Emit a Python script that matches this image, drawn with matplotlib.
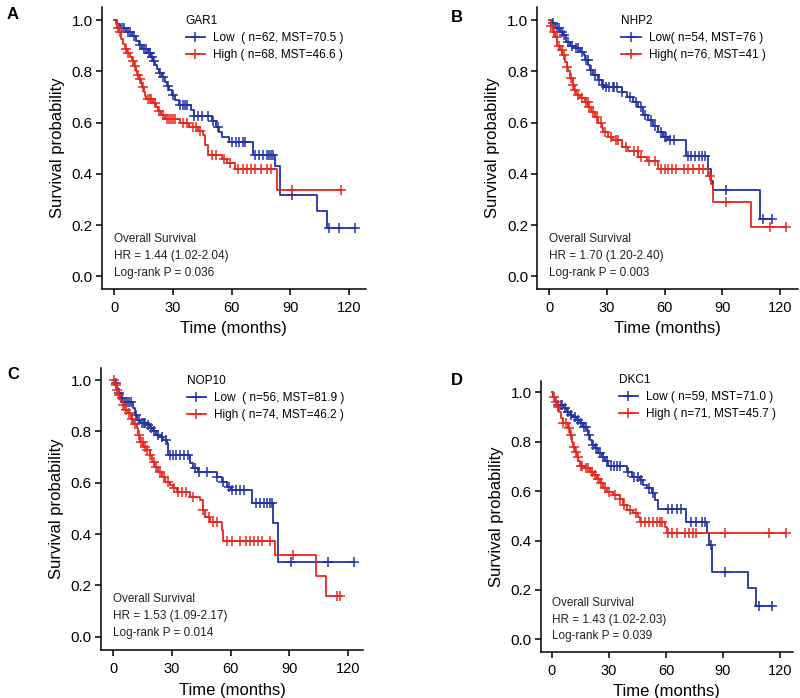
import numpy as np
import matplotlib.pyplot as plt
from matplotlib.lines import Line2D

plt.rcParams['font.family'] = ['Liberation Sans', 'DejaVu Sans']

BLUE = '#2233a6'
RED = '#e8281e'

# ---- panel A : GAR1
a_low_t = [0, 1.5, 3, 6, 9, 11, 12.5, 14, 17, 19, 20, 21, 22, 23, 24.5, 26, 27, 28, 29.5, 31, 33,
           39, 40.5, 50, 52, 53.5, 55, 58.5, 71, 82, 84.5, 103.5, 108.5]
a_low_s = [1.0, 0.984, 0.968, 0.952, 0.936, 0.92, 0.904, 0.888, 0.872, 0.856, 0.84, 0.824, 0.808, 0.792,
           0.776, 0.76, 0.744, 0.728, 0.706, 0.688, 0.67, 0.648, 0.624, 0.604, 0.584, 0.562, 0.543,
           0.523, 0.475, 0.43, 0.318, 0.254, 0.19]
a_low_cens = [4, 5, 7, 8, 10, 13, 15, 16, 17.5, 18, 19.5, 20.5, 23.5, 25, 27.5, 30, 33.5, 35, 36, 37,
              41, 43, 45, 48, 50.5, 53, 60, 62, 64, 66, 67, 72, 74, 76, 78, 79, 80, 81, 91, 110, 115, 123]
a_high_t = [0, 0.8, 1.5, 2.5, 3.5, 4.5, 5.5, 6.5, 8, 9, 10, 11, 11.5, 12.5, 13.5, 14, 15, 15.5, 16, 20,
            21.5, 22.5, 24, 26, 33.5, 38, 43, 45.5, 46.5, 48, 55, 57.5, 61.5, 83]
a_high_s = [1.0, 0.985, 0.97, 0.955, 0.925, 0.905, 0.885, 0.87, 0.855, 0.84, 0.82, 0.8, 0.785, 0.77,
            0.755, 0.74, 0.72, 0.705, 0.69, 0.675, 0.66, 0.645, 0.63, 0.615, 0.598, 0.583, 0.566, 0.55,
            0.512, 0.475, 0.458, 0.443, 0.42, 0.338]
a_high_cens = [2, 3, 6, 7, 9.5, 10.5, 12, 13, 14.5, 17, 18, 19, 21, 23, 25, 27, 28, 29, 30, 31, 35, 37,
               40, 42, 44, 50, 52, 56, 59, 63, 66, 68, 70, 72, 75, 78, 80, 91, 116]

# ---- panel B : NHP2
b_low_t = [0, 1.4, 3, 5.7, 7.4, 9, 11, 13.5, 16, 18, 18.7, 20.4, 21.3, 23, 25.6, 27.3, 28.5, 37.7, 40.3,
           43.8, 46.4, 49, 51.6, 54, 56.7, 59.3, 62, 71, 82.7, 84, 85.3, 109.5]
b_low_s = [1.0, 0.987, 0.97, 0.955, 0.94, 0.915, 0.9, 0.89, 0.876, 0.863, 0.845, 0.825, 0.805, 0.785,
           0.766, 0.746, 0.738, 0.72, 0.70, 0.68, 0.66, 0.63, 0.61, 0.586, 0.564, 0.545, 0.532, 0.47,
           0.42, 0.37, 0.337, 0.224]
b_low_cens = [2, 4, 5, 6.5, 8, 10, 12, 14, 15, 17, 19, 20, 22, 24, 26, 28, 29.5, 31, 33, 34, 35.5, 38,
              42, 45, 48, 50, 53, 55, 58, 60, 61, 63, 65, 72, 74, 76, 78, 79.5, 81, 92, 111, 116]
b_high_t = [0, 0.8, 2, 3, 4.3, 5.7, 7, 8.3, 9.2, 10, 11, 12.3, 13, 14, 16, 18.7, 20.4, 22, 24, 25.6,
            27.3, 28.2, 30.8, 33.4, 37.7, 41, 46.4, 50.7, 56.7, 82.7, 84, 85, 104.9]
b_high_s = [1.0, 0.975, 0.955, 0.935, 0.9, 0.883, 0.863, 0.837, 0.818, 0.8, 0.772, 0.746, 0.727, 0.707,
            0.694, 0.68, 0.662, 0.642, 0.623, 0.6, 0.577, 0.564, 0.545, 0.532, 0.506, 0.487, 0.467,
            0.448, 0.42, 0.39, 0.36, 0.29, 0.194]
b_high_cens = [1, 2.5, 4, 5, 6.5, 8, 9.5, 11.5, 12.5, 13.5, 15, 17, 19, 20, 21, 23, 25, 27, 29, 32, 35,
               36, 40, 44, 46, 48, 52, 55, 58, 60, 62, 64, 66, 70, 72, 75, 78, 80, 83.5, 92, 115, 123]

# ---- panel C : NOP10
c_low_t = [0, 1, 1.7, 2.6, 3.8, 5, 10, 11, 12, 13.7, 17, 18.8, 20.5, 22, 24, 25.6, 27.3, 28, 39.2, 41,
           43.5, 53, 55.5, 58, 60, 70.8, 82, 84.5]
c_low_s = [1.0, 0.987, 0.967, 0.948, 0.93, 0.915, 0.89, 0.864, 0.844, 0.834, 0.825, 0.812, 0.80, 0.786,
           0.777, 0.766, 0.753, 0.708, 0.675, 0.656, 0.643, 0.623, 0.604, 0.584, 0.571, 0.52, 0.444,
           0.292]
c_low_cens = [1.5, 3, 4.5, 6, 7, 8, 9, 11.5, 13, 14.5, 15.5, 16, 18, 19.5, 21, 23, 25, 27, 29, 30.5,
              32, 34, 36, 38, 42, 44, 48, 53, 56, 59, 61, 63, 65, 67, 73, 75, 77, 78.5, 80, 81, 91,
              110, 123]
c_high_t = [0, 0.8, 1.7, 2.6, 3.4, 4.8, 6, 7.7, 9, 10.2, 12, 12.8, 13.7, 15.4, 17, 18.8, 20, 21.3, 23,
            24.7, 26.5, 29, 30.7, 32.4, 39.2, 44.4, 46, 47, 49.5, 55.5, 56.3, 82.8, 104, 108.7]
c_high_s = [1.0, 0.98, 0.96, 0.94, 0.922, 0.903, 0.883, 0.87, 0.85, 0.83, 0.812, 0.786, 0.76, 0.74,
            0.727, 0.708, 0.682, 0.662, 0.643, 0.623, 0.604, 0.59, 0.578, 0.565, 0.545, 0.532, 0.494,
            0.468, 0.448, 0.415, 0.373, 0.318, 0.238, 0.159]
c_high_cens = [0.5, 1.2, 2, 3, 5, 6.5, 8, 9.5, 11, 13, 14, 15, 16, 17.5, 19, 21, 22, 24, 26, 28, 31, 33,
               35, 37, 41, 46, 49, 51, 53, 58, 61, 65, 68, 70, 72, 74, 76, 80, 92, 114.5, 116]

# ---- panel D : DKC1
d_low_t = [0, 0.7, 1.8, 2.5, 6, 7.7, 9.5, 11.2, 13, 14.7, 16.5, 18.3, 19.1, 20, 20.9, 22.6, 24.4, 26.1,
           27.9, 29.6, 39.3, 42, 46.3, 48, 49.8, 52.5, 54.2, 56, 70.5, 81.8, 82.8, 84, 103.3, 107.4]
d_low_s = [1.0, 0.982, 0.962, 0.949, 0.935, 0.922, 0.908, 0.9, 0.888, 0.874, 0.86, 0.847, 0.827, 0.807,
           0.787, 0.773, 0.753, 0.74, 0.72, 0.702, 0.679, 0.659, 0.645, 0.625, 0.612, 0.591, 0.564,
           0.528, 0.476, 0.429, 0.381, 0.274, 0.207, 0.136]
d_low_cens = [3, 4.5, 5, 7, 8.5, 10, 12, 13.5, 15.5, 17, 18, 19.5, 21.5, 23, 25, 27, 29, 31, 32.5, 34,
              36, 40, 43, 45, 47, 51, 53, 61, 63, 66, 68, 73, 76, 79, 80.5, 83.5, 91, 109, 116]
d_high_t = [0, 0.7, 1.6, 2.5, 3.9, 4.7, 5.6, 8.6, 9.5, 10.4, 11.2, 12.1, 13, 13.9, 14.7, 17.4, 20, 21.8,
            23.5, 25.3, 27, 28.8, 32.3, 35.8, 37.5, 39.3, 42.8, 45.4, 46.3, 59.5, 60.4]
d_high_s = [1.0, 0.982, 0.962, 0.942, 0.922, 0.895, 0.874, 0.854, 0.827, 0.80, 0.78, 0.76, 0.74, 0.72,
            0.702, 0.692, 0.679, 0.665, 0.648, 0.632, 0.612, 0.598, 0.584, 0.567, 0.544, 0.524, 0.51,
            0.496, 0.476, 0.456, 0.429]
d_high_cens = [1, 2, 3, 6, 7.5, 9, 10, 11.5, 12.5, 13.5, 15, 16, 18, 19, 21, 22.5, 24, 26, 28, 30, 33,
               36, 38, 41, 44, 47, 49, 51, 53, 55, 57, 58, 61, 63, 66, 70, 72, 74, 76, 91, 114, 123]

genes = ['GAR1', 'NHP2', 'NOP10', 'DKC1']
letters = ['A', 'B', 'C', 'D']
low_labels = ['Low  ( n=62, MST=70.5 )', 'Low( n=54, MST=76 )',
              'Low  ( n=56, MST=81.9 )', 'Low ( n=59, MST=71.0 )']
high_labels = ['High ( n=68, MST=46.6 )', 'High( n=76, MST=41 )',
               'High ( n=74, MST=46.2 )', 'High ( n=71, MST=45.7 )']
hr_text = ['HR = 1.44 (1.02-2.04)', 'HR = 1.70 (1.20-2.40)',
           'HR = 1.53 (1.09-2.17)', 'HR = 1.43 (1.02-2.03)']
p_text = ['Log-rank P = 0.036', 'Log-rank P = 0.003',
          'Log-rank P = 0.014', 'Log-rank P = 0.039']

curves = [
    (a_low_t, a_low_s, a_low_cens, a_high_t, a_high_s, a_high_cens),
    (b_low_t, b_low_s, b_low_cens, b_high_t, b_high_s, b_high_cens),
    (c_low_t, c_low_s, c_low_cens, c_high_t, c_high_s, c_high_cens),
    (d_low_t, d_low_s, d_low_cens, d_high_t, d_high_s, d_high_cens),
]

# pixel layout: spine left/right/top/bottom, px of t=0, t=120, S=0, S=1
W, H = 800, 698
boxes = [
    (101.7, 366, 7.3, 288.7, 114.3, 349, 276.3, 20),
    (537.3, 798, 7.3, 288.7, 549, 780, 276.3, 20),
    (101, 363.3, 368.3, 650, 113.3, 347.7, 636.7, 380),
    (540.7, 793, 380.7, 651.7, 552, 780, 639.3, 392.3),
]
legend_xy = [(33.5, 1.043), (34.5, 1.043), (34.5, 1.043), (32, 1.096)]
letter_xy = [(7, 7), (450.7, 10), (7, 367), (450.7, 373)]

fig = plt.figure(figsize=(8, 6.98), dpi=100)


def km(ax, t, s, cens, color):
    t = np.asarray(t, float)
    s = np.asarray(s, float)
    cens = np.asarray(cens, float)
    end = max(cens.max(), t.max())
    ax.step(np.append(t, end), np.append(s, s[-1]), where='post', color=color, lw=1.3)
    idx = np.searchsorted(t, cens, side='right') - 1
    ax.plot(cens, s[idx], ls='none', marker='+', ms=6.5, mew=1.1, color=color)


for i in range(4):
    left, right, top, bottom, x0, x120, y0, y1 = boxes[i]
    ax = fig.add_axes([left / W, 1 - bottom / H, (right - left) / W, (bottom - top) / H])
    pxm = (x120 - x0) / 120
    ax.set_xlim((left - x0) / pxm, (right - x0) / pxm)
    pyu = y0 - y1
    ax.set_ylim((y0 - bottom) / pyu, (y0 - top) / pyu)

    lt, ls, lc, ht, hs, hc = curves[i]
    km(ax, lt, ls, lc, BLUE)
    km(ax, ht, hs, hc, RED)

    for sp in ['top', 'right']:
        ax.spines[sp].set_visible(False)
    for sp in ['left', 'bottom']:
        ax.spines[sp].set_linewidth(1.1)
    ax.set_xticks([0, 30, 60, 90, 120])
    ax.set_yticks([0.0, 0.2, 0.4, 0.6, 0.8, 1.0])
    ax.set_yticklabels(['0.0', '0.2', '0.4', '0.6', '0.8', '1.0'])
    ax.tick_params(length=4.5, width=1.1)
    ax.tick_params(axis='x', labelsize=10.5, pad=4)
    ax.tick_params(axis='y', labelsize=11, pad=2)
    ax.set_xlabel('Time (months)', fontsize=12, labelpad=5)
    ax.set_ylabel('Survival probability', fontsize=12, labelpad=5)

    handles = [Line2D([], [], color=BLUE, lw=1.3, marker='+', ms=7, mew=1.1),
               Line2D([], [], color=RED, lw=1.3, marker='+', ms=7, mew=1.1)]
    leg = ax.legend(handles, [low_labels[i], high_labels[i]], title=genes[i],
                    loc='upper left', bbox_to_anchor=legend_xy[i], bbox_transform=ax.transData,
                    frameon=False, alignment='left', fontsize=8.5,
                    title_fontproperties={'family': ['Liberation Sans Narrow', 'Liberation Sans'],
                                          'size': 8.5},
                    handlelength=1.65, handletextpad=0.7, borderpad=0, labelspacing=0.42)

    for txt, yy in zip(['Overall Survival', hr_text[i], p_text[i]], [0.146, 0.08, 0.014]):
        ax.text(0, yy, txt, fontsize=8.5, va='center', ha='left', color='#222222')

    lx, ly = letter_xy[i]
    fig.text(lx / W, 1 - ly / H, letters[i], fontsize=12, fontweight='bold', va='top', ha='left')

fig.savefig('out.png', dpi=100)
